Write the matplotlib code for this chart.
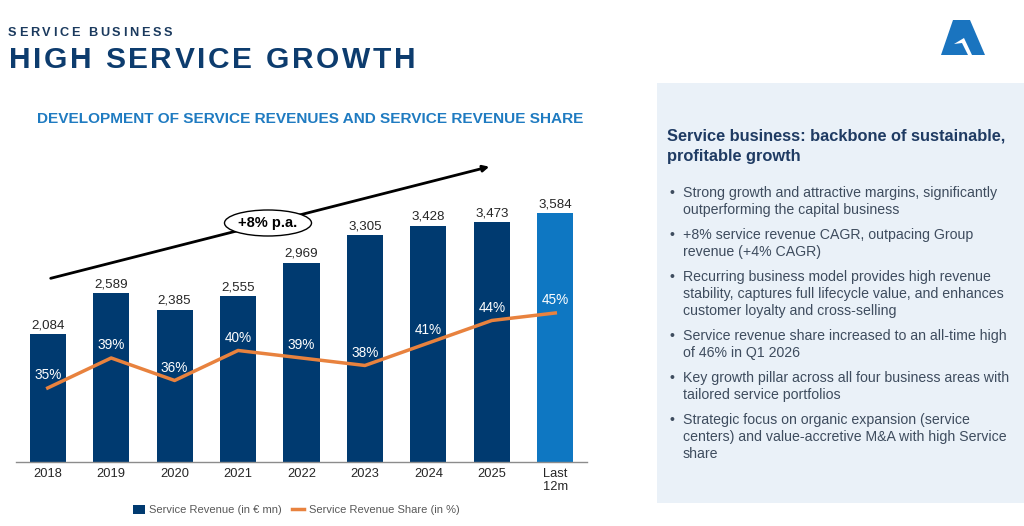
import matplotlib
matplotlib.use("Agg")
import matplotlib.pyplot as plt
from matplotlib.patches import Rectangle, Ellipse, Polygon, Patch, FancyArrowPatch
from matplotlib.lines import Line2D

plt.rcParams['font.family'] = ['Liberation Sans', 'DejaVu Sans']

# data
years = ['2018', '2019', '2020', '2021', '2022', '2023', '2024', '2025', 'Last\n12m']
revenue = [2084, 2589, 2385, 2555, 2969, 3305, 3428, 3473, 3584]
share = [35, 39, 36, 40, 39, 38, 41, 44, 45]

bullets = [
    ['Strong growth and attractive margins, significantly',
     'outperforming the capital business'],
    ['+8% service revenue CAGR, outpacing Group',
     'revenue (+4% CAGR)'],
    ['Recurring business model provides high revenue',
     'stability, captures full lifecycle value, and enhances',
     'customer loyalty and cross-selling'],
    ['Service revenue share increased to an all-time high',
     'of 46% in Q1 2026'],
    ['Key growth pillar across all four business areas with',
     'tailored service portfolios'],
    ['Strategic focus on organic expansion (service',
     'centers) and value-accretive M&A with high Service',
     'share'],
]

NAVY = '#003A70'
LIGHT = '#0E77C2'
ORANGE = '#E8823E'

W, H = 1024, 526
fig = plt.figure(figsize=(W / 100, H / 100), dpi=100)
r = fig.canvas.get_renderer()


def fx(x):
    return x / W


def fy(y):
    return 1 - y / H


def fit(t, target):
    w = t.get_window_extent(r).width
    t.set_fontsize(t.get_fontsize() * target / w)
    return t.get_fontsize()


def spaced(x, y, s, size, target, **kw):
    # letter spaced text, placed char by char
    widths = []
    for ch in s:
        if ch == ' ':
            widths.append(size * 0.278 * 100 / 72)
        else:
            t = fig.text(0, 0, ch, fontsize=size, **kw)
            widths.append(t.get_window_extent(r).width)
            t.remove()
    gap = (target - sum(widths)) / (len(s) - 1)
    cx = x
    for ch, w in zip(s, widths):
        if ch != ' ':
            fig.text(fx(cx), fy(y), ch, fontsize=size, va='center', ha='left', **kw)
        cx += w + gap


# headings
spaced(8, 33, 'SERVICE BUSINESS', 9.2, 164, color='#1B3A5E', fontweight='bold')
spaced(9, 60, 'HIGH SERVICE GROWTH', 21.5, 406, color='#0D3C6E', fontweight='bold')
t = fig.text(fx(37), fy(119), 'DEVELOPMENT OF SERVICE REVENUES AND SERVICE REVENUE SHARE',
             fontsize=10, fontweight='bold', color='#1F7BC1', va='center', ha='left')
fit(t, 548)

# logo
fig.patches.append(Polygon([(fx(941), fy(55)), (fx(953), fy(20)), (fx(970), fy(20)), (fx(985), fy(55))],
                           closed=True, transform=fig.transFigure, facecolor='#1A74BF', edgecolor='none'))
fig.patches.append(Polygon([(fx(954), fy(44)), (fx(964), fy(38)), (fx(972), fy(55)), (fx(968), fy(55)), (fx(962), fy(43))],
                           closed=True, transform=fig.transFigure, facecolor='white', edgecolor='none'))

# right panel
fig.patches.append(Rectangle((fx(657), fy(503)), fx(W - 657), (503 - 83) / H,
                             transform=fig.transFigure, facecolor='#EAF1F8', edgecolor='none', zorder=0))
t1 = fig.text(fx(667), fy(136), 'Service business: backbone of sustainable,', fontsize=11,
              fontweight='bold', color='#1F3B63', va='center', ha='left')
hsize = fit(t1, 341)
fig.text(fx(667), fy(156), 'profitable growth', fontsize=hsize, fontweight='bold',
         color='#1F3B63', va='center', ha='left')

probe = fig.text(0, 0, 'stability, captures full lifecycle value, and enhances', fontsize=9.5)
bsize = fit(probe, 320)
probe.remove()

y = 193
for b in bullets:
    fig.text(fx(670), fy(y), '•', fontsize=bsize, color='#3E4C5E', va='center', ha='left')
    for line in b:
        fig.text(fx(683), fy(y), line, fontsize=bsize, color='#3E4C5E', va='center', ha='left')
        y += 17
    y += 8

# chart
ax = fig.add_axes([fx(16), 64 / H, 571 / W, 312 / H])
x = list(range(len(years)))
colors = [NAVY] * (len(years) - 1) + [LIGHT]
ax.bar(x, revenue, width=0.57, color=colors, zorder=2)
ax.set_xlim(-0.5, 8.5)
ax.set_ylim(498, 4364)
ax.set_yticks([])
ax.set_xticks(x)
ax.set_xticklabels(years, fontsize=9.3, color='#262626', linespacing=1.15)
ax.tick_params(axis='x', length=0, pad=4)
for s in ['left', 'right', 'top']:
    ax.spines[s].set_visible(False)
ax.spines['bottom'].set_color('#8C8C8C')
ax.spines['bottom'].set_linewidth(1)
for xi, v in zip(x, revenue):
    ax.annotate(f'{v:,}', (xi, v), xytext=(0, 2), textcoords='offset points',
                ha='center', va='bottom', fontsize=9.6, color='#262626')

ax2 = ax.twinx()
ax2.set_ylim(25.13, 66.73)
ax2.set_yticks([])
for s in ax2.spines.values():
    s.set_visible(False)
ax2.plot(x, share, color=ORANGE, lw=2.5, zorder=3)
for xi, p in zip(x, share):
    ax2.annotate(f'{p}%', (xi, p), xytext=(0, 9), textcoords='offset points',
                 ha='center', va='center', fontsize=9.8, color='white')

# growth arrow
fig.add_artist(FancyArrowPatch((fx(48), fy(279)), (fx(492), fy(166)),
               transform=fig.transFigure, arrowstyle='-|>', mutation_scale=9,
               color='black', lw=2))
fig.patches.append(Ellipse((fx(268), fy(223)), 87 / W, 26 / H, transform=fig.transFigure,
                           facecolor='white', edgecolor='black', lw=1, zorder=5))
fig.text(fx(268), fy(223), '+8% p.a.', fontsize=10.5, fontweight='bold',
         ha='center', va='center', zorder=6)

# legend
handles = [Patch(facecolor=NAVY, edgecolor='none'),
           Line2D([0], [0], color=ORANGE, lw=2.5)]
fig.legend(handles, ['Service Revenue (in € mn)', 'Service Revenue Share (in %)'],
           loc='center', bbox_to_anchor=(fx(296), fy(510)), ncol=2, frameon=False,
           fontsize=8, labelcolor='#595959', handlelength=1.1, handleheight=0.9,
           handletextpad=0.4, columnspacing=0.9)

fig.savefig('out.png', dpi=100)
